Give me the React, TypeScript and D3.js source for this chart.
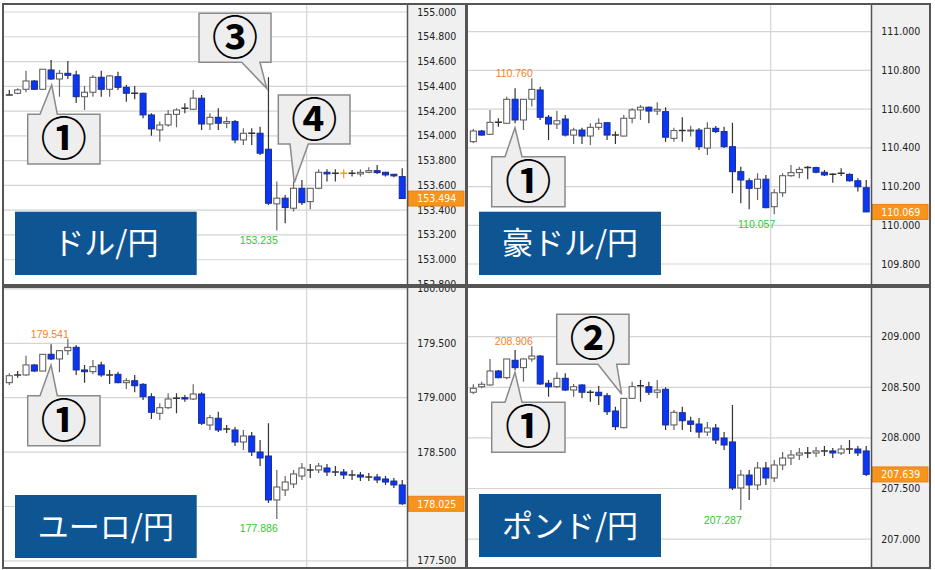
import * as d3 from "d3";

type OHLC = [number, number, number, number];

// open, high, low, close per candle
const usdJpy: OHLC[] = [
  [154.33, 154.371, 154.33, 154.33], [154.344, 154.384, 154.336, 154.371], [154.376, 154.526, 154.352, 154.443],
  [154.443, 154.451, 154.371, 154.376], [154.376, 154.538, 154.371, 154.538], [154.532, 154.613, 154.451, 154.459],
  [154.459, 154.532, 154.316, 154.505], [154.505, 154.605, 154.459, 154.489], [154.492, 154.526, 154.266, 154.316],
  [154.316, 154.403, 154.209, 154.352], [154.352, 154.492, 154.316, 154.473], [154.473, 154.526, 154.316, 154.376],
  [154.376, 154.492, 154.316, 154.484], [154.478, 154.518, 154.371, 154.392], [154.392, 154.411, 154.276, 154.344],
  [154.344, 154.403, 154.296, 154.344], [154.344, 154.349, 154.142, 154.169], [154.169, 154.182, 154.0, 154.056],
  [154.048, 154.115, 153.954, 154.088], [154.088, 154.209, 154.074, 154.174], [154.174, 154.223, 154.07, 154.209],
  [154.223, 154.263, 154.182, 154.223], [154.215, 154.371, 154.209, 154.304], [154.304, 154.33, 154.048, 154.096],
  [154.096, 154.182, 154.048, 154.15], [154.15, 154.223, 154.048, 154.102], [154.102, 154.155, 154.061, 154.115],
  [154.115, 154.128, 153.94, 153.967], [153.967, 154.061, 153.927, 154.021], [154.021, 154.061, 153.927, 154.021],
  [154.021, 154.074, 153.846, 153.86], [153.892, 154.473, 153.442, 153.456], [153.451, 153.631, 153.235, 153.497],
  [153.497, 153.523, 153.295, 153.421], [153.416, 153.631, 153.389, 153.577], [153.577, 153.644, 153.442, 153.461],
  [153.469, 153.577, 153.408, 153.577], [153.577, 153.731, 153.569, 153.706], [153.706, 153.731, 153.631, 153.693],
  [153.698, 153.731, 153.631, 153.698], [153.698, 153.731, 153.658, 153.698], [153.698, 153.725, 153.671, 153.698],
  [153.693, 153.731, 153.671, 153.706], [153.706, 153.747, 153.698, 153.719], [153.719, 153.765, 153.693, 153.703],
  [153.706, 153.711, 153.671, 153.685], [153.69, 153.69, 153.666, 153.677], [153.671, 153.739, 153.494, 153.494],
];

const audJpy: OHLC[] = [
  [110.432, 110.497, 110.425, 110.487], [110.487, 110.492, 110.463, 110.466], [110.47, 110.596, 110.466, 110.532],
  [110.532, 110.553, 110.509, 110.532], [110.527, 110.664, 110.527, 110.651], [110.651, 110.708, 110.527, 110.544],
  [110.544, 110.651, 110.492, 110.651], [110.651, 110.76, 110.613, 110.702], [110.699, 110.716, 110.544, 110.558],
  [110.558, 110.57, 110.441, 110.523], [110.523, 110.592, 110.497, 110.54], [110.549, 110.57, 110.458, 110.466],
  [110.466, 110.504, 110.42, 110.492], [110.492, 110.504, 110.42, 110.461], [110.461, 110.527, 110.415, 110.506],
  [110.506, 110.553, 110.492, 110.527], [110.53, 110.53, 110.441, 110.466], [110.466, 110.484, 110.42, 110.466],
  [110.461, 110.57, 110.458, 110.553], [110.553, 110.604, 110.527, 110.596], [110.596, 110.621, 110.544, 110.61],
  [110.61, 110.613, 110.527, 110.59], [110.59, 110.635, 110.57, 110.599], [110.587, 110.61, 110.432, 110.455],
  [110.449, 110.504, 110.432, 110.489], [110.489, 110.558, 110.432, 110.489], [110.487, 110.514, 110.458, 110.492],
  [110.492, 110.503, 110.389, 110.406], [110.399, 110.532, 110.363, 110.501], [110.501, 110.513, 110.477, 110.484],
  [110.484, 110.509, 110.399, 110.406], [110.406, 110.53, 110.165, 110.277], [110.277, 110.303, 110.114, 110.234],
  [110.23, 110.243, 110.083, 110.191], [110.191, 110.269, 110.131, 110.238], [110.238, 110.26, 110.088, 110.091],
  [110.096, 110.186, 110.057, 110.168], [110.168, 110.269, 110.148, 110.256], [110.256, 110.312, 110.251, 110.272],
  [110.272, 110.303, 110.243, 110.289], [110.298, 110.306, 110.238, 110.298], [110.298, 110.303, 110.269, 110.274],
  [110.274, 110.286, 110.255, 110.26], [110.263, 110.269, 110.22, 110.263], [110.269, 110.294, 110.255, 110.269],
  [110.263, 110.269, 110.225, 110.23], [110.23, 110.243, 110.174, 110.199], [110.194, 110.234, 110.069, 110.069],
];

const eurJpy: OHLC[] = [
  [179.138, 179.224, 179.117, 179.202], [179.209, 179.245, 179.184, 179.209], [179.209, 179.386, 179.202, 179.301],
  [179.301, 179.307, 179.239, 179.245], [179.245, 179.402, 179.245, 179.399], [179.399, 179.491, 179.347, 179.356],
  [179.356, 179.438, 179.233, 179.432], [179.432, 179.541, 179.392, 179.463], [179.463, 179.484, 179.209, 179.255],
  [179.255, 179.301, 179.138, 179.239], [179.239, 179.347, 179.215, 179.285], [179.301, 179.331, 179.193, 179.209],
  [179.209, 179.255, 179.126, 179.209], [179.215, 179.239, 179.132, 179.138], [179.138, 179.178, 179.08, 179.156],
  [179.156, 179.209, 179.05, 179.11], [179.123, 179.132, 178.979, 179.009], [179.009, 179.04, 178.804, 178.866],
  [178.857, 178.949, 178.795, 178.908], [178.908, 179.04, 178.896, 178.988], [178.994, 179.04, 178.857, 178.994],
  [179.0, 179.025, 178.963, 178.988], [178.988, 179.123, 178.979, 179.034], [179.034, 179.05, 178.749, 178.765],
  [178.749, 178.841, 178.703, 178.816], [178.811, 178.871, 178.685, 178.703], [178.712, 178.749, 178.676, 178.712],
  [178.703, 178.731, 178.556, 178.593], [178.593, 178.703, 178.519, 178.648], [178.648, 178.685, 178.464, 178.501],
  [178.501, 178.611, 178.372, 178.446], [178.464, 178.765, 178.032, 178.06], [178.06, 178.336, 177.886, 178.179],
  [178.152, 178.28, 178.097, 178.225], [178.207, 178.336, 178.17, 178.299], [178.28, 178.4, 178.244, 178.354],
  [178.336, 178.391, 178.262, 178.336], [178.336, 178.4, 178.308, 178.372], [178.354, 178.391, 178.28, 178.317],
  [178.317, 178.372, 178.28, 178.317], [178.317, 178.345, 178.253, 178.29], [178.29, 178.336, 178.244, 178.29],
  [178.29, 178.317, 178.234, 178.271], [178.271, 178.308, 178.234, 178.271], [178.271, 178.299, 178.216, 178.244],
  [178.253, 178.28, 178.198, 178.225], [178.234, 178.262, 178.17, 178.198], [178.198, 178.244, 178.014, 178.025],
];

const gbpJpy: OHLC[] = [
  [208.451, 208.53, 208.431, 208.49], [208.506, 208.555, 208.49, 208.53], [208.523, 208.78, 208.516, 208.661],
  [208.661, 208.671, 208.589, 208.595], [208.595, 208.78, 208.58, 208.78], [208.767, 208.869, 208.671, 208.694],
  [208.694, 208.787, 208.555, 208.78], [208.78, 208.906, 208.753, 208.809], [208.809, 208.819, 208.523, 208.533],
  [208.54, 208.572, 208.407, 208.506], [208.506, 208.648, 208.49, 208.589], [208.589, 208.638, 208.463, 208.473],
  [208.473, 208.533, 208.407, 208.506], [208.523, 208.53, 208.391, 208.451], [208.451, 208.473, 208.358, 208.451],
  [208.451, 208.513, 208.325, 208.417], [208.417, 208.443, 208.226, 208.259], [208.266, 208.308, 208.078, 208.111],
  [208.101, 208.391, 208.095, 208.391], [208.391, 208.555, 208.391, 208.506], [208.516, 208.572, 208.358, 208.516],
  [208.506, 208.555, 208.424, 208.451], [208.451, 208.572, 208.391, 208.473], [208.48, 208.5, 208.078, 208.128],
  [208.128, 208.276, 208.078, 208.253], [208.249, 208.308, 208.078, 208.17], [208.167, 208.21, 208.058, 208.134],
  [208.137, 208.197, 207.999, 208.058], [208.058, 208.157, 208.019, 208.098], [208.098, 208.137, 207.94, 207.979],
  [207.999, 208.058, 207.88, 207.93], [207.96, 208.325, 207.485, 207.505], [207.505, 207.683, 207.287, 207.633],
  [207.633, 207.683, 207.386, 207.535], [207.535, 207.762, 207.485, 207.703], [207.703, 207.762, 207.535, 207.604],
  [207.604, 207.782, 207.564, 207.732], [207.732, 207.861, 207.683, 207.801], [207.801, 207.88, 207.732, 207.831],
  [207.831, 207.9, 207.782, 207.851], [207.851, 207.91, 207.801, 207.851], [207.851, 207.91, 207.811, 207.871],
  [207.871, 207.92, 207.821, 207.871], [207.871, 207.9, 207.801, 207.851], [207.851, 207.93, 207.831, 207.89],
  [207.89, 207.979, 207.841, 207.89], [207.89, 207.92, 207.821, 207.851], [207.871, 207.92, 207.624, 207.639],
];

const usdTicks = [155.0, 154.8, 154.6, 154.4, 154.2, 154.0, 153.8, 153.6, 153.4, 153.2, 153.0, 152.8];
const audTicks = [111.0, 110.8, 110.6, 110.4, 110.2, 110.0, 109.8];
const eurTicks = [180.0, 179.5, 179.0, 178.5, 178.0, 177.5];
const gbpTicks = [209.0, 208.5, 208.0, 207.5, 207.0];

const pairNames = ["ドル/円", "豪ドル/円", "ユーロ/円", "ポンド/円"];
const lastPrices = [153.494, 110.069, 178.025, 207.639];
const highIdx = [-1, 7, 7, 7];
const highVals = [0, 110.76, 179.541, 208.906];
const lowIdx = [32, 36, 32, 32];
const lowVals = [153.235, 110.057, 177.886, 207.287];
const goldDoji = [[40], [], [], []];

// layout
const panels = [
  { data: usdJpy, ticks: usdTicks, x: 3, y: 4, dom: [155.0, 152.8], rng: [12, 284.5], nameBox: [15, 211.7, 181.7, 63.3] },
  { data: audJpy, ticks: audTicks, x: 467, y: 4, dom: [111.0, 109.8], rng: [31.7, 264], nameBox: [479, 211.7, 182, 63.3] },
  { data: eurJpy, ticks: eurTicks, x: 3, y: 287, dom: [179.5, 177.5], rng: [343.3, 560.9], nameBox: [15, 495, 181.7, 63] },
  { data: gbpJpy, ticks: gbpTicks, x: 467, y: 287, dom: [209.0, 207.0], rng: [336.7, 539.1], nameBox: [479, 494, 182, 63] },
];
const PW = 463;
const PH = 281;
const PLOT_W = 404.5;

const callouts = [
  { label: "①", box: [27.7, 114.3, 100, 164], side: "top", base: [40, 57.3], tip: [51.7, 85] },
  { label: "③", box: [199, 13.3, 271, 62.3], side: "bottom", base: [241.7, 260], tip: [266.7, 88.3] },
  { label: "④", box: [278.3, 95, 350, 144], side: "bottom", base: [290, 308.3], tip: [294.3, 182.7] },
  { label: "①", box: [491.7, 156.7, 565, 206.7], side: "top", base: [505, 522], tip: [515, 127.7] },
  { label: "①", box: [27.7, 395.7, 100, 445.7], side: "top", base: [40, 57.3], tip: [51, 365] },
  { label: "②", box: [556.7, 314.3, 629, 364.3], side: "bottom", base: [598, 616.7], tip: [621.7, 394.3] },
  { label: "①", box: [491.7, 402.3, 565, 452.3], side: "top", base: [505, 522], tip: [515, 372.3] },
];

const bubblePath = (c) => {
  const [x0, y0, x1, y1] = c.box;
  const [b0, b1] = c.base;
  const [tx, ty] = c.tip;
  if (c.side === "top")
    return `M${x0},${y0}L${b0},${y0}L${tx},${ty}L${b1},${y0}L${x1},${y0}L${x1},${y1}L${x0},${y1}Z`;
  return `M${x0},${y0}L${x1},${y0}L${x1},${y1}L${b1},${y1}L${tx},${ty}L${b0},${y1}L${x0},${y1}Z`;
};

const NUM_FONT = "'Liberation Sans Narrow', 'DejaVu Sans Condensed', 'Arial Narrow', sans-serif";

function Panel({ p, k }) {
  const y = d3.scaleLinear().domain(p.dom).range(p.rng);
  const x = d3.scaleLinear().domain([0, 47]).range([p.x + 6.3, p.x + 6.3 + 47 * 8.36]);
  const plotRight = p.x + PLOT_W;
  const axisCx = plotRight + (PW - PLOT_W) / 2;
  const last = lastPrices[k];
  const [nx, ny, nw, nh] = p.nameBox;
  // the price box hides a tick label that sits right under it
  const axisTicks = p.ticks.filter((t) => Math.abs(y(t) - y(last)) > 4);
  return (
    <g>
      <defs>
        <clipPath id={`plot${k}`}>
          <rect x={p.x} y={p.y} width={PLOT_W} height={PH} />
        </clipPath>
        <clipPath id={`axis${k}`}>
          <rect x={plotRight} y={p.y + 1} width={PW - PLOT_W} height={PH - 2} />
        </clipPath>
      </defs>
      <rect x={p.x} y={p.y} width={PW} height={PH} fill="#fff" />
      <rect x={plotRight} y={p.y} width={PW - PLOT_W} height={PH} fill="#f0f0f0" />
      <g clipPath={`url(#plot${k})`}>
        {p.ticks.map((t) => (
          <line key={t} x1={p.x} x2={plotRight} y1={y(t)} y2={y(t)} stroke="#d4d4d4" strokeWidth={1.2} />
        ))}
        <line x1={p.x + 303.7} x2={p.x + 303.7} y1={p.y} y2={p.y + PH} stroke="#d4d4d4" strokeWidth={1.2} />
        {p.data.map(([o, h, l, c], i) => {
          const cx = x(i);
          const doji = Math.abs(o - c) < 0.002;
          const up = c > o;
          const gold = goldDoji[k].includes(i);
          const wickColor = gold ? "#e0a020" : up ? "#666" : "#333";
          return (
            <g key={i}>
              <line x1={cx} x2={cx} y1={y(h)} y2={y(l)} stroke={wickColor} strokeWidth={1.2} />
              {doji ? (
                <line x1={cx - 3.5} x2={cx + 3.5} y1={y(o)} y2={y(o)} stroke={gold ? "#e0a020" : "#333"} strokeWidth={1.5} />
              ) : (
                <rect
                  x={cx - 3}
                  y={y(Math.max(o, c))}
                  width={6}
                  height={Math.max(1, y(Math.min(o, c)) - y(Math.max(o, c)))}
                  fill={up ? "#fff" : "#0a37f5"}
                  stroke={up ? "#555" : "#1b2c8c"}
                  strokeWidth={1}
                />
              )}
            </g>
          );
        })}
        {highIdx[k] >= 0 && (
          <text x={x(highIdx[k]) + 1} y={y(highVals[k]) - 1} textAnchor="end" fontSize={10.5} fill="#f5812a"
            fontFamily="'Liberation Sans', Arial, sans-serif">
            {highVals[k].toFixed(3)}
          </text>
        )}
        <text x={x(lowIdx[k]) + 1} y={y(lowVals[k]) + 13.5} textAnchor="end" fontSize={10.5} fill="#2ecc2e"
          fontFamily="'Liberation Sans', Arial, sans-serif">
          {lowVals[k].toFixed(3)}
        </text>
        <rect x={nx} y={ny} width={nw} height={nh} fill="#0e5594" />
        <text x={nx + nw / 2} y={ny + nh / 2 + 11} textAnchor="middle" fontSize={31} fill="#fff"
          fontFamily="'Noto Sans CJK JP', sans-serif">
          {pairNames[k]}
        </text>
      </g>
      <g clipPath={`url(#axis${k})`}>
        {axisTicks.map((t) => (
          <text key={t} x={axisCx} y={y(t) + 3.5} textAnchor="middle" fontSize={10.5} fill="#222" fontFamily={NUM_FONT}>
            {t.toFixed(3)}
          </text>
        ))}
        <rect x={plotRight + 1} y={y(last) - 7.5} width={PW - PLOT_W - 3} height={15} fill="#f7941d" stroke="#e8811a" />
        <text x={axisCx} y={y(last) + 3.8} textAnchor="middle" fontSize={10.5} fill="#fff" fontFamily={NUM_FONT}>
          {last.toFixed(3)}
        </text>
      </g>
      <line x1={plotRight} x2={plotRight} y1={p.y} y2={p.y + PH} stroke="#555" strokeWidth={1.5} />
      <rect x={p.x} y={p.y} width={PW} height={PH} fill="none" stroke="#555" strokeWidth={2} />
    </g>
  );
}

export default function App() {
  return (
    <svg width={935} height={570} style={{ position: "absolute", left: 0, top: 0, background: "#fff" }}>
      {panels.map((p, k) => (
        <Panel key={k} p={p} k={k} />
      ))}
      {callouts.map((c, i) => {
        const cx = (c.box[0] + c.box[2]) / 2;
        const cy = (c.box[1] + c.box[3]) / 2;
        return (
          <g key={i}>
            <path d={bubblePath(c)} fill="#eeeeee" stroke="#8a8a8a" strokeWidth={1.5} />
            <text x={cx} y={cy + 16} textAnchor="middle" fontSize={46} fontWeight={700} fill="#000"
              fontFamily="'Noto Sans CJK JP', sans-serif">
              {c.label}
            </text>
          </g>
        );
      })}
    </svg>
  );
}
